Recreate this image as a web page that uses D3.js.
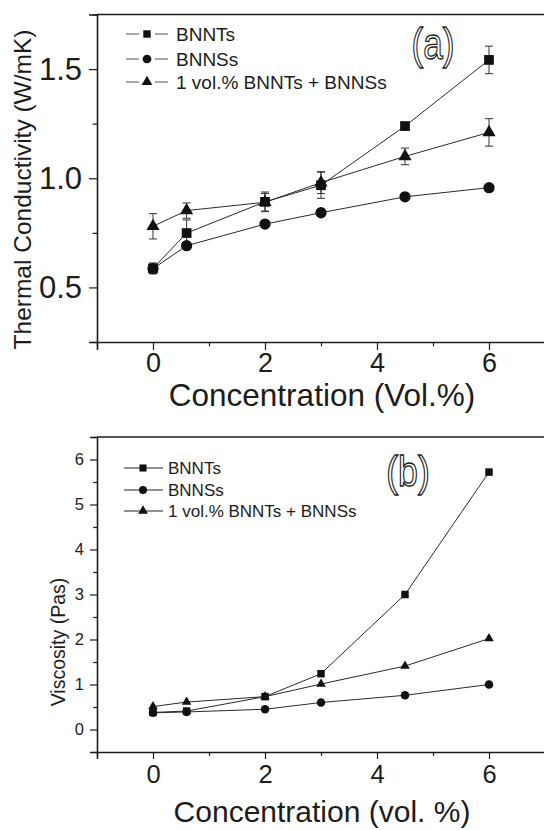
<!DOCTYPE html>
<html>
<head>
<meta charset="utf-8">
<script src="https://cdn.jsdelivr.net/npm/d3@7"></script>
<style>
  body { margin: 0; background: #fff; }
  svg, svg text { font-family: "Liberation Sans", Arial, sans-serif; }
  svg { display: block; }
</style>
</head>
<body>
<svg id="chart" width="544" height="830"></svg>
<script>
// concentrations (vol.%) shared by both panels
var concentration = [0, 0.6, 2, 3, 4.5, 6];
var seriesNames = ["BNNTs", "BNNSs", "1 vol.% BNNTs + BNNSs"];

// (a) thermal conductivity, W/mK
var tcBNNT = [0.587, 0.749, 0.892, 0.968, 1.239, 1.542];
var tcBNNS = [0.586, 0.691, 0.790, 0.842, 0.915, 0.957];
var tcHybrid = [0.780, 0.852, 0.890, 0.980, 1.100, 1.210];
var tcBNNTErr = [0.025, 0.060, 0.045, 0.060, 0.010, 0.063];
var tcBNNSErr = [0.010, 0.010, 0.010, 0.008, 0.008, 0.008];
var tcHybridErr = [0.058, 0.035, 0.040, 0.050, 0.038, 0.063];

// (b) viscosity, Pas
var viscBNNT = [0.38, 0.41, 0.73, 1.24, 3.00, 5.72];
var viscBNNS = [0.37, 0.39, 0.45, 0.60, 0.76, 1.00];
var viscHybrid = [0.51, 0.61, 0.73, 1.01, 1.41, 2.02];

var xMajor = [0, 2, 4, 6];
var xMinor = [-1, 1, 3, 5, 7];
var tcMajor = [0.5, 1.0, 1.5];
var tcMinor = [0.25, 0.75, 1.25, 1.75];
var viscMajor = [0, 1, 2, 3, 4, 5, 6];
var viscMinor = [-0.5, 0.5, 1.5, 2.5, 3.5, 4.5, 5.5, 6.5];

var svg = d3.select("#chart");
var ink = "#1c1c1c";
var font = "'Liberation Sans', Arial, sans-serif";
var shapes = [d3.symbolSquare, d3.symbolCircle, d3.symbolTriangle];

function drawPanel(p) {
  var x = d3.scaleLinear().domain([-1, 7]).range([p.left, 545]);
  var y = d3.scaleLinear().domain(p.yDomain).range([p.bottom, p.top]);
  var g = svg.append("g");

  // frame: top line (right side falls off the picture)
  g.append("line").attr("x1", p.left).attr("x2", 545)
    .attr("y1", p.top).attr("y2", p.top)
    .attr("stroke", ink).attr("stroke-width", 1.6);

  // axes
  var xAxis = g.append("g").attr("transform", "translate(0," + p.bottom + ")")
    .call(d3.axisBottom(x).tickValues(xMajor).tickSize(p.tickLen).tickFormat(d3.format("d")));
  g.append("g").attr("transform", "translate(0," + p.bottom + ")")
    .call(d3.axisBottom(x).tickValues(xMinor).tickSize(p.tickLen * 0.55).tickFormat(""))
    .select(".domain").remove();
  var yAxis = g.append("g").attr("transform", "translate(" + p.left + ",0)")
    .call(d3.axisLeft(y).tickValues(p.yMajor).tickSize(p.tickLen).tickFormat(p.yFormat));
  g.append("g").attr("transform", "translate(" + p.left + ",0)")
    .call(d3.axisLeft(y).tickValues(p.yMinor).tickSize(p.tickLen * 0.55).tickFormat(""))
    .select(".domain").remove();

  g.selectAll("g").attr("font-family", font);
  g.selectAll(".domain").attr("stroke", ink).attr("stroke-width", 1.6);
  g.selectAll(".tick line").attr("stroke", ink).attr("stroke-width", 1.2);
  xAxis.selectAll(".tick text").attr("font-size", p.xTickFont).attr("fill", ink)
    .attr("dy", null).attr("y", p.xTickBaseline - p.bottom);
  yAxis.selectAll(".tick text").attr("font-size", p.yTickFont).attr("fill", ink)
    .attr("x", p.yTickRight - p.left);

  // axis titles
  g.append("text").attr("x", 322).attr("y", p.xTitleY)
    .attr("text-anchor", "middle").attr("font-size", p.xTitleFont).attr("fill", ink)
    .text(p.xTitle);
  g.append("text")
    .attr("transform", "translate(" + p.yTitleX + "," + p.yTitleY + ") rotate(-90)")
    .attr("text-anchor", "middle").attr("font-size", p.yTitleFont).attr("fill", ink)
    .text(p.yTitle);

  // panel tag, hollow letters
  g.append("text")
    .attr("transform", "translate(" + p.tagX + "," + p.tagY + ") scale(" + p.tagSX + ",1)")
    .attr("text-anchor", "middle").attr("font-size", p.tagFont)
    .attr("fill", "#fff").attr("stroke", ink).attr("stroke-width", 1.3)
    .text(p.tag);

  var line = d3.line().x(function(d){ return x(d[0]); }).y(function(d){ return y(d[1]); });

  p.series.forEach(function(vals, i){
    var pts = concentration.map(function(c, j){ return [c, vals[j]]; });
    g.append("path").datum(pts).attr("d", line)
      .attr("fill", "none").attr("stroke", "#2a2a2a").attr("stroke-width", 1);
  });

  if (p.errors) {
    p.series.forEach(function(vals, i){
      var errs = p.errors[i];
      concentration.forEach(function(c, j){
        var cx = x(c), y0 = y(vals[j] - errs[j]), y1 = y(vals[j] + errs[j]);
        g.append("path")
          .attr("d", "M" + cx + "," + y0 + "V" + y1 +
            "M" + (cx - 4) + "," + y0 + "H" + (cx + 4) +
            "M" + (cx - 4) + "," + y1 + "H" + (cx + 4))
          .attr("stroke", "#333").attr("stroke-width", 1).attr("fill", "none");
      });
    });
  }

  p.series.forEach(function(vals, i){
    g.selectAll(null).data(concentration).enter().append("path")
      .attr("transform", function(c, j){ return "translate(" + x(c) + "," + y(vals[j]) + ")"; })
      .attr("d", d3.symbol().type(shapes[i]).size(p.markerSizes[i]))
      .attr("fill", "#111");
  });

  // legend
  seriesNames.forEach(function(name, i){
    var ly = p.legendY[i];
    var lg = g.append("g");
    if (p.legendGap) {
      lg.append("line").attr("x1", p.legendX0).attr("x2", p.legendMid - p.legendGap)
        .attr("y1", ly).attr("y2", ly).attr("stroke", "#777").attr("stroke-width", 1.3);
      lg.append("line").attr("x1", p.legendMid + p.legendGap).attr("x2", p.legendX1)
        .attr("y1", ly).attr("y2", ly).attr("stroke", "#777").attr("stroke-width", 1.3);
    } else {
      lg.append("line").attr("x1", p.legendX0).attr("x2", p.legendX1)
        .attr("y1", ly).attr("y2", ly).attr("stroke", "#222").attr("stroke-width", 1);
    }
    lg.append("path").attr("transform", "translate(" + p.legendMid + "," + ly + ")")
      .attr("d", d3.symbol().type(shapes[i]).size(p.legendSizes[i])).attr("fill", "#111");
    lg.append("text").attr("x", p.legendText).attr("y", ly).attr("dy", "0.36em")
      .attr("font-size", p.legendFont).attr("fill", ink).text(name);
  });
}

drawPanel({
  left: 97, top: 14.5, bottom: 342, yDomain: [0.25, 1.75],
  yMajor: tcMajor, yMinor: tcMinor, yFormat: d3.format(".1f"),
  tickLen: 8, xTickFont: 27, xTickBaseline: 372, yTickFont: 31, yTickRight: 82,
  xTitle: "Concentration (Vol.%)", xTitleY: 406, xTitleFont: 31.5,
  yTitle: "Thermal Conductivity (W/mK)", yTitleX: 31, yTitleY: 189.5, yTitleFont: 24.5,
  tag: "(a)", tagX: 433, tagY: 59, tagFont: 44, tagSX: 0.8,
  series: [tcBNNT, tcBNNS, tcHybrid],
  errors: [tcBNNTErr, tcBNNSErr, tcHybridErr],
  markerSizes: [95, 100, 75],
  legendY: [34, 59, 82], legendX0: 126, legendX1: 168, legendMid: 147, legendGap: 8,
  legendText: 176, legendFont: 19, legendSizes: [55, 60, 50]
});

drawPanel({
  left: 97, top: 437, bottom: 752, yDomain: [-0.5, 6.5],
  yMajor: viscMajor, yMinor: viscMinor, yFormat: d3.format("d"),
  tickLen: 7, xTickFont: 25.5, xTickBaseline: 783, yTickFont: 16.5, yTickRight: 84,
  xTitle: "Concentration (vol. %)", xTitleY: 822, xTitleFont: 30,
  yTitle: "Viscosity (Pas)", yTitleX: 65, yTitleY: 642, yTitleFont: 19.5,
  tag: "(b)", tagX: 408, tagY: 486, tagFont: 42, tagSX: 0.85,
  series: [viscBNNT, viscBNNS, viscHybrid],
  errors: null,
  markerSizes: [56, 57, 40],
  legendY: [468, 490, 511], legendX0: 124, legendX1: 163, legendMid: 143, legendGap: 0,
  legendText: 168, legendFont: 17, legendSizes: [50, 50, 42]
});
</script>
</body>
</html>
